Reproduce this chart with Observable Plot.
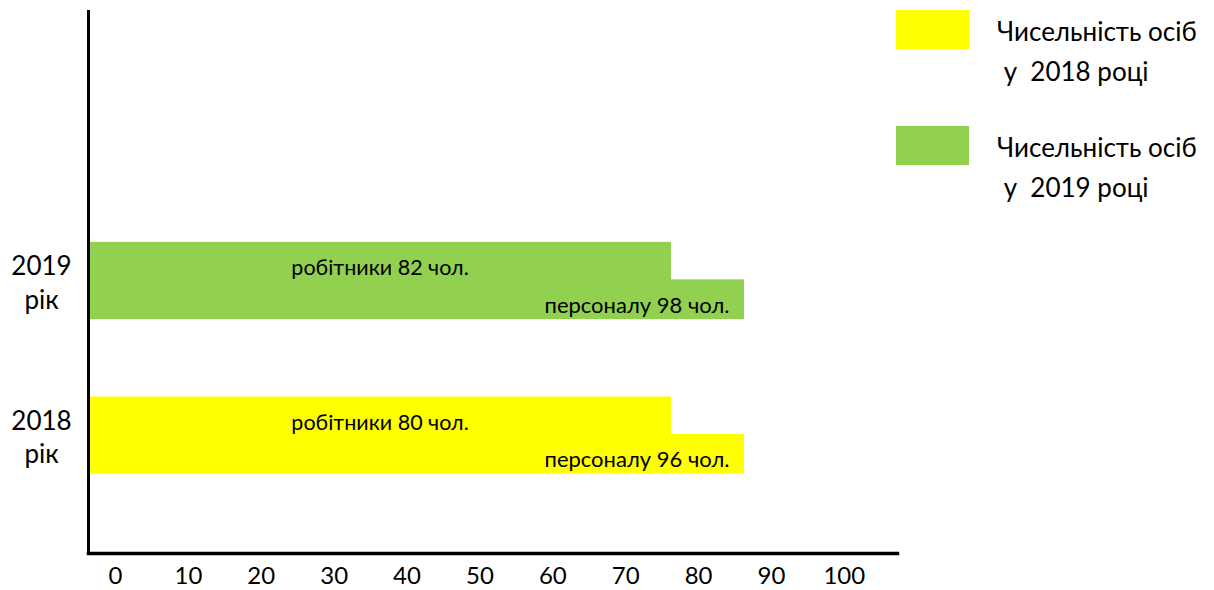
<!DOCTYPE html>
<html><head><meta charset="utf-8">
<script src="https://cdn.jsdelivr.net/npm/d3@7"></script>
<script src="https://cdn.jsdelivr.net/npm/@observablehq/plot@0.6"></script>
<style>
body{margin:0;background:#fff;}
#wrap{position:relative;width:1214px;height:590px;font-family:Lato,"Open Sans",sans-serif;}
#wrap svg{position:absolute;left:0;top:0;}
.sw{position:absolute;width:73px;height:39px;}
.lt{position:absolute;font-size:26px;line-height:40px;white-space:pre;color:#000;}
</style></head><body><div id="wrap"></div>
<script>
const years = ["2019", "2018"];
const workers = [80, 80];
const staff = [90, 90];
const workerLabels = ["робітники 82 чол.", "робітники 80 чол."];
const staffLabels = ["персоналу 98 чол.", "персоналу 96 чол."];
const yearLabels = ["2019\nрік", "2018\nрік"];
const xTicks = [0, 10, 20, 30, 40, 50, 60, 70, 80, 90, 100];
const legendYears = ["2018", "2019"];
const legendLabels = ["Чисельність осіб\n у  2018 році", "Чисельність осіб\n у  2019 році"];
const colors = ["#ffff00", "#92d050"];

const rows = years.map((y, i) => ({year: y, workers: workers[i], staff: staff[i], wl: workerLabels[i], sl: staffLabels[i]}));

const chart = Plot.plot({
  width: 1214, height: 590,
  marginLeft: 88, marginRight: 317, marginTop: 10, marginBottom: 37,
  style: {fontFamily: "Lato, 'Open Sans', sans-serif", color: "#000", background: "transparent"},
  x: {domain: [0, 111], axis: null},
  y: {domain: years, range: [164.6, 551], padding: 0.5, round: false, axis: null},
  color: {domain: legendYears, range: colors},
  marks: [
    Plot.barX(rows, {y: "year", x: "staff", fill: "year", insetTop: 37.5}),
    Plot.barX(rows, {y: "year", x: "workers", fill: "year", insetBottom: 38.6}),
    Plot.text(rows, {y: "year", x: d => d.workers / 2, text: "wl", fontSize: 21.5, dy: -12.5}),
    Plot.text(rows, {y: "year", x: "staff", text: "sl", fontSize: 22, textAnchor: "end", dx: -15, dy: 24.5}),
    Plot.ruleX([0], {strokeWidth: 3}),
    Plot.frame({anchor: "bottom", strokeWidth: 3.5}),
    Plot.axisX({ticks: xTicks, tickSize: 0, tickPadding: 13, fontSize: 24, dx: 27, label: null}),
    Plot.axisY({tickSize: 0, tickPadding: 47, fontSize: 26, textAnchor: "middle", lineHeight: 1.3, tickFormat: d => yearLabels[years.indexOf(d)], label: null})
  ]
});
const wrap = document.getElementById("wrap");
wrap.appendChild(chart);

const legendTops = [10, 126];
legendYears.forEach((yr, i) => {
  const sw = document.createElement("div");
  sw.className = "sw";
  sw.style.left = "896px";
  sw.style.top = legendTops[i] + "px";
  sw.style.background = colors[i];
  wrap.appendChild(sw);
  const t = document.createElement("div");
  t.className = "lt";
  t.style.left = "997px";
  t.style.top = (legendTops[i] + 1) + "px";
  t.textContent = legendLabels[i];
  wrap.appendChild(t);
});
</script></body></html>
